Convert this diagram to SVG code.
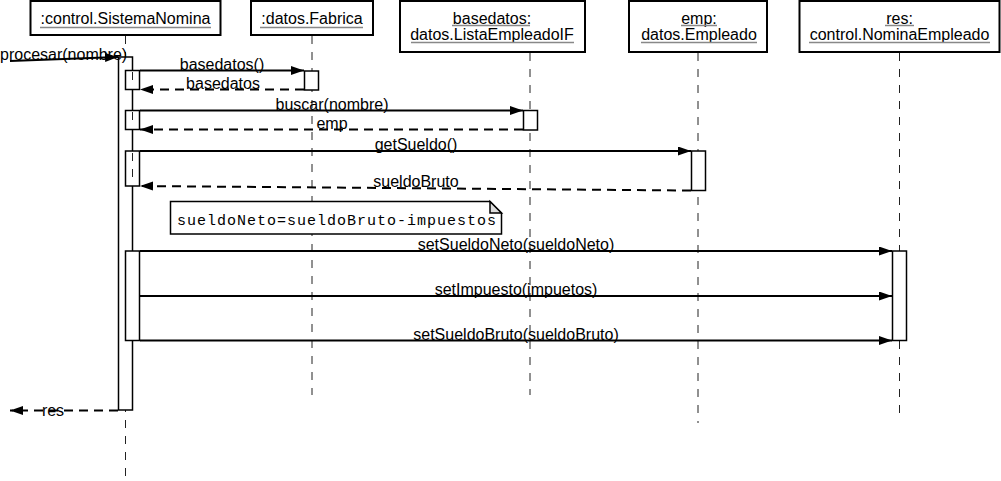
<svg xmlns="http://www.w3.org/2000/svg" width="1001" height="481" viewBox="0 0 1001 481">
<style>
text{font-family:"Liberation Sans",Arial,sans-serif;font-size:16px;fill:#000}
.mid{text-anchor:middle}
.box{fill:#fff;stroke:#000;stroke-width:2}
.ul{stroke:#888;stroke-width:1.5}
.life{stroke:#222;stroke-width:1;stroke-dasharray:8,8;fill:none}
.act{fill:#fff;stroke:#000;stroke-width:1.5}
.msg{stroke:#000;stroke-width:2;fill:none}
.ret{stroke:#000;stroke-width:2;fill:none;stroke-dasharray:9,6}
.note{fill:#fff;stroke:#000;stroke-width:1.5}
.mono{font-family:"Liberation Mono","Courier New",monospace;font-size:15px}
</style>
<defs>
<marker id="arr" markerUnits="userSpaceOnUse" markerWidth="14" markerHeight="10" refX="13" refY="4.5" orient="auto">
<path d="M0,0 L13,4.5 L0,9 z" fill="#000" stroke="none"/>
</marker>
</defs>

<g id="lifelines">
<line class="life" x1="125.5" y1="36" x2="125.5" y2="481"/>
<line class="life" x1="312" y1="36" x2="312" y2="395"/>
<line class="life" x1="530" y1="53" x2="530" y2="395"/>
<line class="life" x1="698" y1="53" x2="698" y2="423"/>
<line class="life" x1="899.5" y1="53" x2="899.5" y2="413"/>
</g>

<g id="n1">
<rect class="box" x="30.5" y="1" width="190" height="34"/>
<text class="mid" x="125.5" y="24">:control.SistemaNomina</text>
<line class="ul" x1="40" y1="27.5" x2="211" y2="27.5"/>
</g>
<g id="n2">
<rect class="box" x="251" y="1" width="122" height="34"/>
<text class="mid" x="312" y="24">:datos.Fabrica</text>
<line class="ul" x1="260" y1="27.5" x2="363" y2="27.5"/>
</g>
<g id="n3">
<rect class="box" x="400" y="1" width="185" height="51"/>
<text class="mid" x="492" y="23.5">basedatos:</text>
<line class="ul" x1="452" y1="25.5" x2="530" y2="25.5"/>
<text class="mid" x="492" y="39.5">datos.ListaEmpleadoIF</text>
<line class="ul" x1="411" y1="42.5" x2="574" y2="42.5"/>
</g>
<g id="n4">
<rect class="box" x="629" y="1" width="138" height="51"/>
<text class="mid" x="699" y="23.5">emp:</text>
<line class="ul" x1="681" y1="25.5" x2="717" y2="25.5"/>
<text class="mid" x="699" y="39.5">datos.Empleado</text>
<line class="ul" x1="641" y1="42.5" x2="757" y2="42.5"/>
</g>
<g id="n5">
<rect class="box" x="799.5" y="1" width="200" height="51"/>
<text class="mid" x="899.5" y="23.5">res:</text>
<line class="ul" x1="885" y1="25.5" x2="914" y2="25.5"/>
<text class="mid" x="899.5" y="39.5">control.NominaEmpleado</text>
<line class="ul" x1="809" y1="42.5" x2="990" y2="42.5"/>
</g>

<g id="activations">
<rect class="act" x="118.5" y="57" width="14" height="353"/>
<rect class="act" x="125.5" y="70.5" width="14" height="19"/>
<line class="life" x1="132.5" y1="72" x2="132.5" y2="88" stroke-dasharray="5,4"/>
<rect class="act" x="125.5" y="110.5" width="14" height="19"/>
<line class="life" x1="132.5" y1="112" x2="132.5" y2="128" stroke-dasharray="5,4"/>
<rect class="act" x="125.5" y="151" width="14" height="35"/>
<line class="life" x1="132.5" y1="153" x2="132.5" y2="184" stroke-dasharray="6,6"/>
<rect class="act" x="125.5" y="251" width="14" height="89.5"/>
<rect class="act" x="304.5" y="71" width="14" height="19"/>
<rect class="act" x="523.5" y="110.5" width="14" height="19.5"/>
<rect class="act" x="691.5" y="151" width="14" height="39.5"/>
<rect class="act" x="892.5" y="251" width="14" height="89.5"/>
</g>

<g id="note">
<path class="note" d="M170.5,201.5 H490 L501.5,213 V234 H170.5 Z"/>
<path d="M490,201.5 V213 H501.5 Z" fill="#ddd" stroke="#000" stroke-width="1.5" stroke-linejoin="miter"/>
<text class="mono" x="177" y="225" textLength="319" lengthAdjust="spacing">sueldoNeto=sueldoBruto-impuestos</text>
</g>

<g id="connectors">
<line class="msg" x1="10" y1="61" x2="118" y2="57" marker-end="url(#arr)"/>
<text x="0" y="60">procesar(nombre)</text>

<line class="msg" x1="140" y1="70.5" x2="304" y2="70.5" marker-end="url(#arr)"/>
<text class="mid" x="222" y="70">basedatos()</text>
<line class="ret" x1="304" y1="89.5" x2="140" y2="89.5" marker-end="url(#arr)"/>
<text class="mid" x="223" y="89">basedatos</text>

<line class="msg" x1="140" y1="110.5" x2="523" y2="110.5" marker-end="url(#arr)"/>
<text class="mid" x="332" y="110">buscar(nombre)</text>
<line class="ret" x1="523" y1="129.5" x2="140" y2="129.5" marker-end="url(#arr)"/>
<text class="mid" x="332" y="129">emp</text>

<line class="msg" x1="140" y1="151" x2="691" y2="151" marker-end="url(#arr)"/>
<text class="mid" x="416" y="150">getSueldo()</text>
<line class="ret" x1="691" y1="190.5" x2="140" y2="186" marker-end="url(#arr)"/>
<text class="mid" x="416" y="187">sueldoBruto</text>

<line class="msg" x1="140" y1="251" x2="892" y2="251" marker-end="url(#arr)"/>
<text class="mid" x="516" y="250">setSueldoNeto(sueldoNeto)</text>
<line class="msg" x1="140" y1="296" x2="892" y2="296" marker-end="url(#arr)"/>
<text class="mid" x="516" y="295">setImpuesto(impuetos)</text>
<line class="msg" x1="140" y1="340.5" x2="892" y2="340.5" marker-end="url(#arr)"/>
<text class="mid" x="516" y="340">setSueldoBruto(sueldoBruto)</text>

<line class="ret" x1="118" y1="410.5" x2="10" y2="410.5" marker-end="url(#arr)"/>
<text class="mid" x="53" y="416">res</text>
</g>
</svg>
